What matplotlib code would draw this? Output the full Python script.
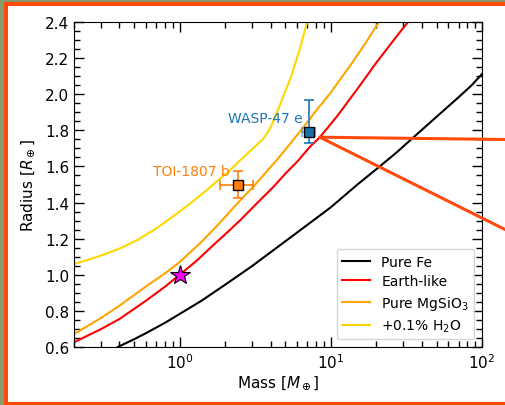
import matplotlib
matplotlib.use("Agg")
import matplotlib.pyplot as plt
from matplotlib.patches import Rectangle, ConnectionPatch
from matplotlib.ticker import MultipleLocator

# mass-radius curves (mass in Earth masses, radius in Earth radii)
fe_mass = [0.39, 0.5, 0.6, 0.8, 1.0, 1.4, 2.0, 3.0, 4.0, 6.0, 8.0, 10.0, 15.0, 20.0,
           27.0, 34.0, 50.0, 68.0, 85.0, 100.0]
fe_radius = [0.60, 0.643, 0.677, 0.734, 0.783, 0.857, 0.945, 1.047, 1.125, 1.235, 1.313,
             1.374, 1.50, 1.585, 1.675, 1.75, 1.875, 1.974, 2.048, 2.112]

earth_mass = [0.2, 0.3, 0.4, 0.6, 0.8, 1.0, 1.3, 1.6, 2.0, 2.5, 3.2, 4.15, 5.0, 6.0,
              7.2, 8.46, 11.0, 15.0, 20.0, 27.2, 32.4]
earth_radius = [0.626, 0.698, 0.755, 0.857, 0.934, 1.0, 1.079, 1.15, 1.224, 1.30, 1.391,
                1.485, 1.56, 1.627, 1.705, 1.762, 1.878, 2.03, 2.175, 2.32, 2.4]

mgsio3_mass = [0.2, 0.3, 0.4, 0.6, 0.8, 1.0, 1.4, 1.84, 2.4, 3.14, 4.5, 6.46, 8.0, 10.0,
               14.0, 17.0, 20.8]
mgsio3_radius = [0.672, 0.759, 0.829, 0.936, 1.008, 1.07, 1.184, 1.287, 1.394, 1.497,
                 1.646, 1.808, 1.909, 2.01, 2.18, 2.285, 2.4]

h2o_mass = [0.2, 0.25, 0.31, 0.4, 0.517, 0.7, 1.0, 1.25, 1.54, 1.84, 2.14, 2.5, 3.0,
            3.56, 3.8, 4.05, 4.6, 5.49, 6.23, 6.97]
h2o_radius = [1.06, 1.084, 1.11, 1.145, 1.189, 1.256, 1.35, 1.413, 1.475, 1.531, 1.577,
              1.632, 1.694, 1.752, 1.785, 1.826, 1.94, 2.103, 2.25, 2.4]

# planets
toi_mass, toi_mass_err = 2.45, 0.6
toi_radius, toi_radius_err = 1.50, 0.075
wasp_mass, wasp_mass_err = 7.12, 0.7
wasp_radius, wasp_radius_lo, wasp_radius_hi = 1.79, 0.06, 0.18

# callout anchor on the Earth-like curve
callout_mass, callout_radius = 8.46, 1.762

olive = "#8b9a6b"
frame_orange = "#ff4a0c"

fig = plt.figure(figsize=(5.05, 4.06), dpi=100)
fig.patch.set_facecolor(olive)
fig.add_artist(Rectangle((6 / 505, 1 / 406), 1.1, 0.9865 - 1 / 406,
                         transform=fig.transFigure, facecolor="white",
                         edgecolor=frame_orange, linewidth=2.9, zorder=0))

ax = fig.add_axes([0.1465, 0.1429, 0.808, 0.8004])
ax.set_facecolor("white")

ax.plot(fe_mass, fe_radius, color="black", lw=1.5, label="Pure Fe")
ax.plot(earth_mass, earth_radius, color="red", lw=1.5, label="Earth-like")
ax.plot(mgsio3_mass, mgsio3_radius, color="orange", lw=1.5, label="Pure MgSiO$_3$")
ax.plot(h2o_mass, h2o_radius, color="gold", lw=1.5, label="+0.1% H$_2$O")

ax.errorbar(toi_mass, toi_radius, xerr=toi_mass_err, yerr=toi_radius_err,
            fmt="s", color="#ff7f0e", mfc="#ff7f0e", mec="black", ms=6.5,
            capsize=3.5, elinewidth=1.2, capthick=1.2, zorder=5)
ax.errorbar(wasp_mass, wasp_radius, xerr=wasp_mass_err, fmt="none",
            ecolor="#1f77b4", alpha=0.55, capsize=3.5, elinewidth=1.2,
            capthick=1.2, zorder=5)
ax.errorbar(wasp_mass, wasp_radius, yerr=[[wasp_radius_lo], [wasp_radius_hi]],
            fmt="s", color="#1f77b4", mfc="#1a6fab", mec="black", ms=6.5,
            capsize=3.5, elinewidth=1.2, capthick=1.2, zorder=6)
ax.plot(1.0, 1.0, marker="*", color="magenta", mec="black", mew=0.8, ms=15, zorder=7)

ax.text(6.5, 1.867, "WASP-47 e", color="#1f77b4", fontsize=10, ha="right", va="center")
ax.text(2.14, 1.573, "TOI-1807 b", color="#ff7f0e", fontsize=10, ha="right", va="center")

ax.set_xscale("log")
ax.set_xlim(0.2, 100)
ax.set_ylim(0.6, 2.4)
ax.yaxis.set_major_locator(MultipleLocator(0.2))
ax.yaxis.set_minor_locator(MultipleLocator(0.05))
ax.tick_params(which="both", direction="in", top=True, right=True, labelsize=11)
ax.tick_params(which="major", length=7, width=1)
ax.tick_params(which="minor", length=4, width=1)
ax.set_xlabel(r"Mass [$M_\oplus$]", fontsize=11, labelpad=2)
ax.set_ylabel(r"Radius [$R_\oplus$]", fontsize=11, labelpad=6)

ax.legend(loc="lower right", fontsize=10, borderaxespad=0.55, labelspacing=0.4)

for end_y in [(406 - 140.5) / 406, (406 - 230.5) / 406]:
    con = ConnectionPatch(xyA=(callout_mass, callout_radius), coordsA="data", axesA=ax,
                          xyB=(1.0, end_y), coordsB="figure fraction",
                          color=frame_orange, lw=2.2, zorder=10)
    con.set_clip_on(False)
    fig.add_artist(con)

fig.savefig("out.png", dpi=100, facecolor=fig.get_facecolor())
